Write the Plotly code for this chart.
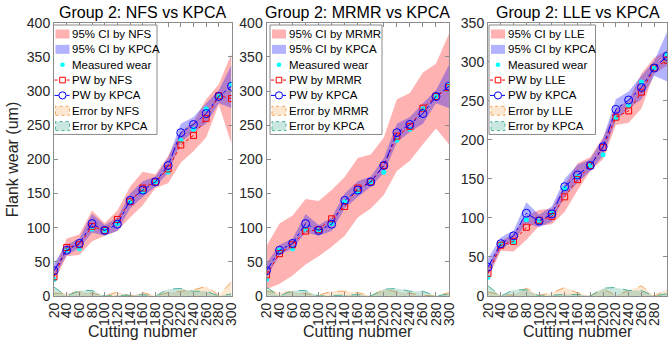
import plotly.graph_objects as go

# Cutting number (x) shared by every panel
cut = [20, 40, 60, 80, 100, 120, 140, 160, 180, 200, 220, 240, 260, 280, 300]

# Measured flank wear (um)
measured = [24, 67, 69, 98, 96, 106, 138, 153, 167, 181, 228, 244, 274, 292, 310]

# KPCA prediction and its 95% confidence band
pw_kpca = [37, 67, 77, 106, 96, 105, 140, 155, 167, 191, 239, 251, 267, 292, 307]
ci_kpca_lo = [27, 60, 70, 93, 88, 95, 128, 145, 160, 180, 225, 240, 252, 282, 275]
ci_kpca_hi = [48, 75, 84, 120, 104, 115, 150, 168, 175, 202, 252, 262, 282, 301, 338]

# NFS prediction and band
pw_nfs = [28, 71, 75, 102, 96, 112, 138, 158, 167, 186, 221, 235, 260, 293, 289]
ci_nfs_lo = [20, 58, 60, 80, 88, 95, 115, 133, 158, 165, 195, 212, 232, 280, 222]
ci_nfs_hi = [40, 84, 90, 125, 107, 125, 160, 182, 178, 205, 240, 255, 288, 310, 355]

# MRMR prediction and band
pw_mrmr = [31, 62, 75, 95, 97, 113, 131, 158, 167, 191, 234, 248, 275, 292, 305]
ci_mrmr_lo = [10, 18, 30, 46, 58, 72, 88, 115, 128, 148, 183, 198, 222, 245, 222]
ci_mrmr_hi = [73, 106, 118, 142, 139, 155, 174, 202, 207, 232, 288, 297, 327, 340, 384]

# LLE prediction and band
pw_lle = [29, 65, 70, 88, 97, 102, 127, 149, 167, 190, 229, 237, 261, 292, 302]
ci_lle_lo = [22, 58, 57, 72, 90, 92, 108, 135, 160, 175, 219, 222, 240, 285, 295]
ci_lle_hi = [38, 70, 80, 103, 110, 112, 142, 170, 178, 203, 240, 250, 285, 305, 315]

x_ticks = cut
y_max = [400, 400, 350]

panels = [
    ("NFS", pw_nfs, ci_nfs_lo, ci_nfs_hi),
    ("MRMR", pw_mrmr, ci_mrmr_lo, ci_mrmr_hi),
    ("LLE", pw_lle, ci_lle_lo, ci_lle_hi),
]

W, H = 669, 345
x_px = [(54, 231.5), (266.5, 449), (488, 667)]
y_px = (22.7, 296)  # top, bottom of plot boxes
y_dom = [(H - y_px[1]) / H, (H - y_px[0]) / H]

# legend boxes (left, right) in pixels, shared top/bottom
leg_px = [(53.5, 157), (270, 382), (489, 595.5)]
leg_top, leg_row = 25.0, 15.35

FONT = "Liberation Sans, Arial, sans-serif"
AX_COL = "#8c8c8c"
TXT_COL = "#262626"

RED_FILL = "rgba(255,0,0,0.30)"
BLUE_FILL = "rgba(0,0,255,0.30)"
ORANGE_LINE = "#f2a65a"
ORANGE_FILL = "rgba(248,170,90,0.28)"
GREEN_LINE = "#4fb39a"
GREEN_FILL = "rgba(60,170,140,0.28)"


def px(x):
    return x / W


def py(y):
    return (H - y) / H


def abs_err(pred):
    return [abs(p - m) for p, m in zip(pred, measured)]


fig = go.Figure()

for i, (name, pw, lo, hi) in enumerate(panels):
    xa = "x" if i == 0 else f"x{i+1}"
    ya = "y" if i == 0 else f"y{i+1}"
    common = dict(xaxis=xa, yaxis=ya, showlegend=False)

    # confidence band of the compared method
    fig.add_trace(go.Scatter(x=cut, y=lo, mode="lines", line=dict(width=0, color=RED_FILL),
                             hoverinfo="skip", **common))
    fig.add_trace(go.Scatter(x=cut, y=hi, mode="lines", line=dict(width=0, color=RED_FILL),
                             fill="tonexty", fillcolor=RED_FILL, name=f"95% CI by {name}",
                             **common))
    # KPCA band
    fig.add_trace(go.Scatter(x=cut, y=ci_kpca_lo, mode="lines", line=dict(width=0, color=BLUE_FILL),
                             hoverinfo="skip", **common))
    fig.add_trace(go.Scatter(x=cut, y=ci_kpca_hi, mode="lines", line=dict(width=0, color=BLUE_FILL),
                             fill="tonexty", fillcolor=BLUE_FILL, name="95% CI by KPCA", **common))
    # measured wear
    fig.add_trace(go.Scatter(x=cut, y=measured, mode="markers",
                             marker=dict(symbol="circle", size=5, color="#00ffff"),
                             name="Measured wear", **common))
    # predictions
    fig.add_trace(go.Scatter(x=cut, y=pw, mode="lines+markers",
                             line=dict(width=1, color="#ff0000", dash="dot"),
                             marker=dict(symbol="square-open", size=6, color="#ff0000",
                                         line=dict(width=1)),
                             name=f"PW by {name}", **common))
    fig.add_trace(go.Scatter(x=cut, y=pw_kpca, mode="lines+markers",
                             line=dict(width=1, color="#0000ff", dash="dashdot"),
                             marker=dict(symbol="circle-open", size=8, color="#0000ff",
                                         line=dict(width=1)),
                             name="PW by KPCA", **common))
    # absolute errors
    fig.add_trace(go.Scatter(x=cut, y=abs_err(pw), mode="lines",
                             line=dict(width=1, color=ORANGE_LINE, dash="dash"),
                             fill="tozeroy", fillcolor=ORANGE_FILL, name=f"Error by {name}",
                             **common))
    fig.add_trace(go.Scatter(x=cut, y=abs_err(pw_kpca), mode="lines",
                             line=dict(width=1, color=GREEN_LINE, dash="dash"),
                             fill="tozeroy", fillcolor=GREEN_FILL, name="Error by KPCA",
                             **common))

layout = dict(
    width=W, height=H,
    margin=dict(l=0, r=0, t=0, b=0, autoexpand=False),
    paper_bgcolor="white", plot_bgcolor="white",
    font=dict(family=FONT, color=TXT_COL, size=13),
    showlegend=False,
    annotations=[], shapes=[],
)

for i in range(3):
    xk = "xaxis" if i == 0 else f"xaxis{i+1}"
    yk = "yaxis" if i == 0 else f"yaxis{i+1}"
    x0, x1 = px(x_px[i][0]), px(x_px[i][1])
    layout[xk] = dict(
        domain=[x0, x1], range=[20, 300], anchor="y" if i == 0 else f"y{i+1}",
        tickmode="array", tickvals=x_ticks, ticktext=[str(v) for v in x_ticks],
        tickangle=-90, ticks="inside", ticklen=4, tickcolor=AX_COL,
        showline=True, linecolor=AX_COL, linewidth=1, mirror="allticks",
        showgrid=False, zeroline=False, automargin=False,
        tickfont=dict(size=14, color=TXT_COL),
    )
    layout[yk] = dict(
        domain=y_dom, range=[0, y_max[i]], anchor="x" if i == 0 else f"x{i+1}",
        tickmode="linear", tick0=0, dtick=50,
        ticks="inside", ticklen=4, tickcolor=AX_COL,
        showline=True, linecolor=AX_COL, linewidth=1, mirror="allticks",
        showgrid=False, zeroline=False, automargin=False,
        tickfont=dict(size=14, color=TXT_COL),
    )
    # panel title and x label
    layout["annotations"].append(dict(
        text=f"Group 2: {panels[i][0]} vs KPCA", xref="paper", yref="paper",
        x=(x0 + x1) / 2, y=py(12), xanchor="center", yanchor="middle",
        showarrow=False, font=dict(size=16, color="#000000"),
    ))
    layout["annotations"].append(dict(
        text="Cutting nubmer", xref="paper", yref="paper",
        x=(x0 + x1) / 2, y=py(331), xanchor="center", yanchor="middle",
        showarrow=False, font=dict(size=16, color=TXT_COL),
    ))

    # legend box with its entries
    name = panels[i][0]
    lx0, lx1 = leg_px[i]
    ly1 = leg_top + 7 * leg_row + 2
    layout["shapes"].append(dict(type="rect", xref="paper", yref="paper",
                                 x0=px(lx0), x1=px(lx1), y0=py(ly1), y1=py(leg_top),
                                 fillcolor="white", line=dict(color="#8a8a8a", width=1),
                                 layer="above"))
    entries = [
        (f"95% CI by {name}", "patch", RED_FILL, None),
        ("95% CI by KPCA", "patch", BLUE_FILL, None),
        ("Measured wear", "dot", "#00ffff", None),
        (f"PW by {name}", "square", "#ff0000", "dot"),
        ("PW by KPCA", "circle", "#0000ff", "dashdot"),
        (f"Error by {name}", "epatch", ORANGE_FILL, ORANGE_LINE),
        ("Error by KPCA", "epatch", GREEN_FILL, GREEN_LINE),
    ]
    ix0, ix1 = lx0 + 2, lx0 + 16
    icx = (ix0 + ix1) / 2
    for k, (label, kind, col, extra) in enumerate(entries):
        cy = leg_top + 9 + k * leg_row
        if kind == "patch":
            layout["shapes"].append(dict(type="rect", xref="paper", yref="paper",
                                         x0=px(ix0), x1=px(ix1), y0=py(cy + 4.5), y1=py(cy - 4.5),
                                         fillcolor=col, line=dict(width=0), layer="above"))
        elif kind == "epatch":
            layout["shapes"].append(dict(type="rect", xref="paper", yref="paper",
                                         x0=px(ix0), x1=px(ix1), y0=py(cy + 4.5), y1=py(cy - 4.5),
                                         fillcolor=col, line=dict(width=1, color=extra, dash="dot"),
                                         layer="above"))
        elif kind == "dot":
            r = 2.3
            layout["shapes"].append(dict(type="circle", xref="paper", yref="paper",
                                         x0=px(icx - r), x1=px(icx + r), y0=py(cy + r), y1=py(cy - r),
                                         fillcolor=col, line=dict(width=0), layer="above"))
        else:
            layout["shapes"].append(dict(type="line", xref="paper", yref="paper",
                                         x0=px(ix0 - 1), x1=px(ix1 + 1), y0=py(cy), y1=py(cy),
                                         line=dict(width=1, color=col, dash=extra), layer="above"))
            r = 2.8 if kind == "square" else 3.6
            layout["shapes"].append(dict(type="rect" if kind == "square" else "circle",
                                         xref="paper", yref="paper",
                                         x0=px(icx - r), x1=px(icx + r), y0=py(cy + r), y1=py(cy - r),
                                         fillcolor="white", line=dict(width=1, color=col),
                                         layer="above"))
        layout["annotations"].append(dict(
            text=label, xref="paper", yref="paper", x=px(lx0 + 16.5), y=py(cy),
            xanchor="left", yanchor="middle", showarrow=False,
            font=dict(size=11.5, color="#000000"),
        ))

layout["annotations"].append(dict(
    text="Flank wear (um)", xref="paper", yref="paper", x=px(12), y=py((y_px[0] + y_px[1]) / 2),
    xanchor="center", yanchor="middle", textangle=-90, showarrow=False,
    font=dict(size=16, color=TXT_COL),
))

fig.update_layout(**layout)
fig.write_html("out.html")
